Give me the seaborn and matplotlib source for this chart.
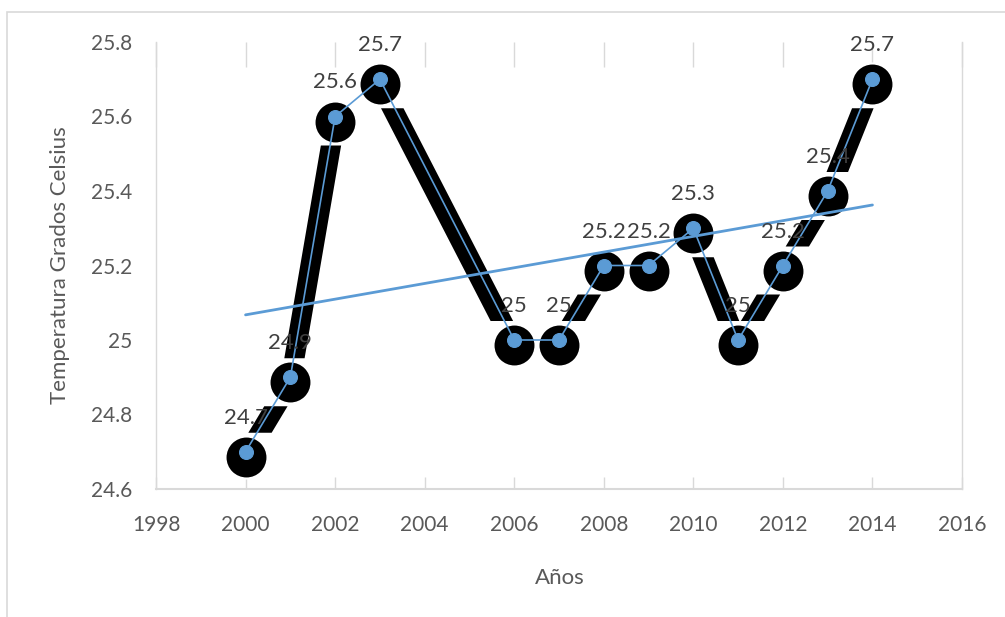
import numpy as np
import pandas as pd
import seaborn as sns
import matplotlib.pyplot as plt
from matplotlib import transforms
from matplotlib.patches import Polygon, Rectangle

# Annual mean temperature (°C)
years = [2000, 2001, 2002, 2003, 2006, 2007, 2008, 2009, 2010, 2011, 2012, 2013, 2014]
temps = [24.7, 24.9, 25.6, 25.7, 25.0, 25.0, 25.2, 25.2, 25.3, 25.0, 25.2, 25.4, 25.7]

x_ticks = [1998, 2000, 2002, 2004, 2006, 2008, 2010, 2012, 2014, 2016]
y_ticks = [24.6, 24.8, 25.0, 25.2, 25.4, 25.6, 25.8]
y_tick_labels = ["24.6", "24.8", "25", "25.2", "25.4", "25.6", "25.8"]

BLUE = "#5B9BD5"
GRID = "#D9D9D9"
TICK_TXT = "#595959"
LABEL_TXT = "#404040"

sns.set_theme(style="white")
plt.rcParams["font.family"] = ["Lato", "DejaVu Sans"]

df = pd.DataFrame({"Años": years, "Temperatura": temps})

W, H = 1005, 617
fig = plt.figure(figsize=(W / 100, H / 100), dpi=100)
ax = fig.add_axes([156 / W, 128 / H, 806 / W, 447 / H])
ax.set_xlim(x_ticks[0], x_ticks[-1])
ax.set_ylim(y_ticks[0], y_ticks[-1])

# Chart-area border
fig.patches.append(Rectangle((7 / W, -0.05), 1.2, (H - 12) / H + 0.05,
                             transform=fig.transFigure, fill=False,
                             edgecolor=GRID, linewidth=1.2, zorder=0))

# Black drop shadow of the series: thick segments with gaps plus discs
shadow_dy = -5          # px
disc_r = 20             # px
gap = 4                 # px
band = 20               # px, perpendicular thickness
pts = ax.transData.transform(np.column_stack([years, temps])) + np.array([0, shadow_dy])
inv = ax.transData.inverted()
for (xa, ya), (xb, yb) in zip(pts[:-1], pts[1:]):
    if abs(yb - ya) < 1e-6:
        continue
    y_lo = min(ya, yb) + disc_r + gap
    y_hi = max(ya, yb) - disc_r - gap
    if y_hi <= y_lo:
        continue
    seg_len = np.hypot(xb - xa, yb - ya)
    hw = band / 2 / (abs(yb - ya) / seg_len)
    x_at = lambda y: xa + (y - ya) * (xb - xa) / (yb - ya)
    poly_px = np.array([
        [x_at(y_lo) - hw, y_lo], [x_at(y_lo) + hw, y_lo],
        [x_at(y_hi) + hw, y_hi], [x_at(y_hi) - hw, y_hi],
    ])
    ax.add_patch(Polygon(inv.transform(poly_px), closed=True,
                         facecolor="black", edgecolor="none", zorder=2))

shadow = transforms.offset_copy(ax.transData, fig=fig, x=0, y=shadow_dy, units="dots")
ax.scatter(df["Años"], df["Temperatura"], s=(2 * (disc_r + 1) * 72 / 100) ** 2,
           color="black", edgecolors="white", linewidths=1.5,
           transform=shadow, zorder=3)

# Linear trend line
sns.regplot(data=df, x="Años", y="Temperatura", scatter=False, ci=None,
            truncate=True, ax=ax,
            line_kws=dict(color=BLUE, linewidth=2.0, zorder=4))

# Series line with markers
sns.lineplot(data=df, x="Años", y="Temperatura", ax=ax, color=BLUE,
             linewidth=1.2, marker="o", markersize=10,
             markeredgecolor=BLUE, markeredgewidth=0.8, zorder=5)

# Data labels
for xv, yv in zip(years, temps):
    ax.annotate(f"{yv:g}", (xv, yv), xytext=(0, 34), textcoords="offset pixels",
                ha="center", va="center", fontsize=16, color=LABEL_TXT, zorder=6)

# Axes styling
ax.set_xticks(x_ticks)
ax.set_xticklabels([str(v) for v in x_ticks])
ax.set_yticks(y_ticks)
ax.set_yticklabels(y_tick_labels)
ax.tick_params(axis="x", direction="in", length=9, width=1, color=GRID,
               labelsize=15, labelcolor=TICK_TXT, pad=19, bottom=True)
ax.tick_params(axis="y", length=0, labelsize=15, labelcolor=TICK_TXT, pad=17, left=True)

top = ax.secondary_xaxis("top")
top.set_xticks(x_ticks)
top.tick_params(axis="x", direction="in", length=18, width=1, color=GRID,
                labeltop=False)
top.spines["top"].set_visible(False)

for side in ["left", "right"]:
    ax.spines[side].set_visible(True)
    ax.spines[side].set_color(GRID)
    ax.spines[side].set_linewidth(1.0)
ax.spines["bottom"].set_color(GRID)
ax.spines["bottom"].set_linewidth(1.5)
ax.spines["top"].set_visible(False)
ax.grid(False)

ax.set_xlabel("Años", fontsize=16, color=TICK_TXT, va="center")
ax.xaxis.set_label_coords(0.501, -0.199)
ax.set_ylabel("Temperatura Grados Celsius", fontsize=16, color=TICK_TXT, va="center")
ax.yaxis.set_label_coords(-0.119, 0.501)

fig.savefig("out.png", dpi=100)
